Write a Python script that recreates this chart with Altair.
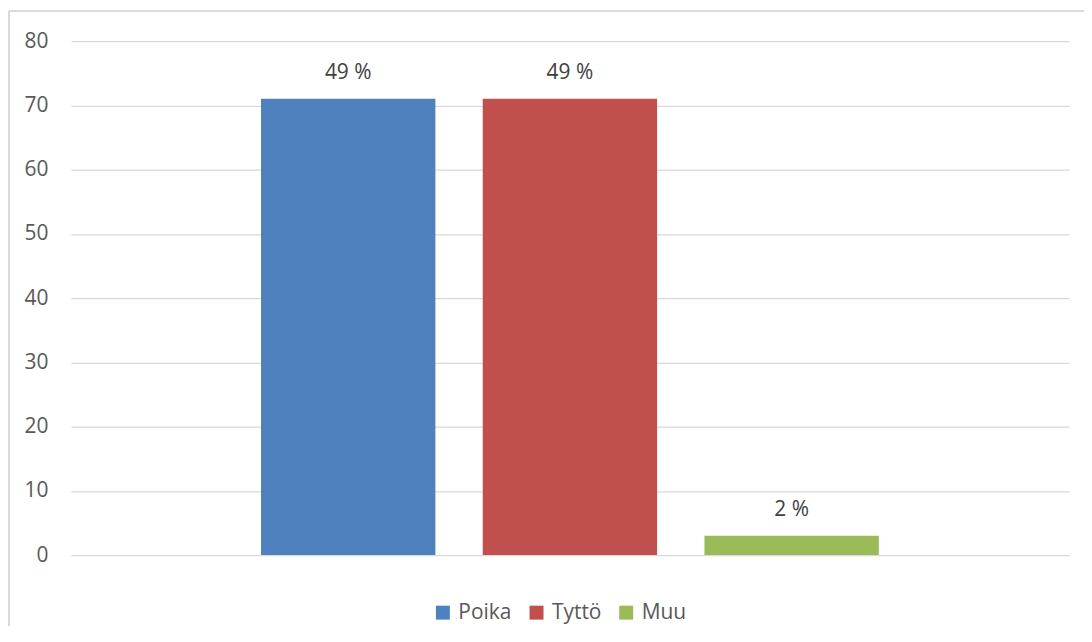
import altair as alt
import pandas as pd

categories = ["Poika", "Tyttö", "Muu"]
counts = [71, 71, 3]
pct_labels = ["49 %", "49 %", "2 %"]
colors = ["#4F81BD", "#C0504D", "#9BBB59"]

df = pd.DataFrame({"sukupuoli": categories, "n": counts, "label": pct_labels})

FONT = "Open Sans"

x_enc = alt.X("sukupuoli:N", sort=categories, axis=None,
              scale=alt.Scale(paddingInner=0.2135, paddingOuter=0.858))

bars = alt.Chart(df).mark_bar().encode(
    x=x_enc,
    y=alt.Y("n:Q", scale=alt.Scale(domain=[0, 80]),
            axis=alt.Axis(values=list(range(0, 81, 10)), title=None, domain=False,
                          ticks=False, labelPadding=23, labelFontSize=21,
                          labelFont=FONT, labelColor="#595959",
                          grid=True, gridColor="#d9d9d9", gridWidth=1.3)),
    color=alt.Color("sukupuoli:N", sort=categories,
                    scale=alt.Scale(domain=categories, range=colors),
                    legend=alt.Legend(title=None, orient="none", direction="horizontal",
                                      legendX=363, legendY=563,
                                      symbolType="square", symbolSize=196,
                                      symbolStrokeWidth=0, labelFontSize=21,
                                      labelFont=FONT, labelColor="#595959",
                                      labelOffset=5, columnPadding=14)),
)

text = alt.Chart(df).mark_text(baseline="middle", dy=-26, fontSize=21, font=FONT,
                               color="#404040").encode(
    x=x_enc,
    y=alt.Y("n:Q"),
    text="label:N",
)

border_left = alt.Chart(df).mark_rule(color="#d9d9d9", strokeWidth=1.5).encode(
    x=alt.value(-62), y=alt.value(-30), y2=alt.value(590))
border_top = alt.Chart(df).mark_rule(color="#d9d9d9", strokeWidth=1.5).encode(
    x=alt.value(-62), x2=alt.value(1020), y=alt.value(-30))

chart = alt.layer(border_left, border_top, bars, text).properties(
    width=1002, height=516,
    padding={"left": 63, "top": 32, "right": 15, "bottom": 70},
    autosize=alt.AutoSizeParams(type="none"),
).configure_view(stroke=None)

chart.save("out.html", embed_options={"renderer": "svg", "actions": False})
